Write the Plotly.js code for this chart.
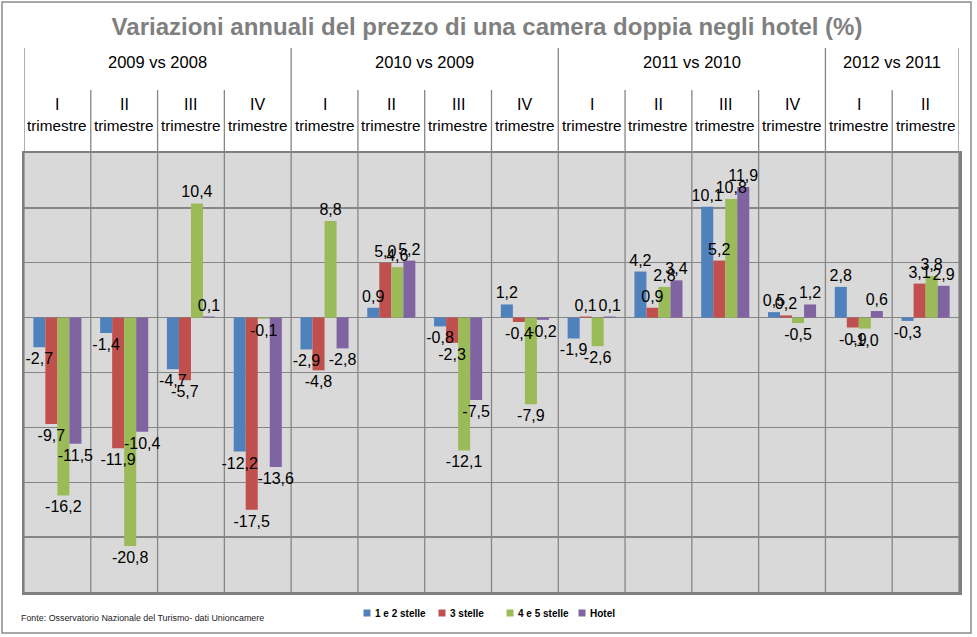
<!DOCTYPE html>
<html>
<head>
<meta charset="utf-8">
<script src="https://cdn.plot.ly/plotly-3.0.1.min.js"></script>
<style>
html,body{margin:0;padding:0;background:#fff;}
#chart{width:977px;height:637px;}
</style>
</head>
<body>
<div id="chart"></div>
<script>
// ---- Data ----
const quarters = ['I','II','III','IV','I','II','III','IV','I','II','III','IV','I','II'];
const quarterWord = 'trimestre';
const periods = ['2009 vs 2008','2010 vs 2009','2011 vs 2010','2012 vs 2011'];
const periodSpans = [4,4,4,2];
const seriesNames = ['1 e 2 stelle','3 stelle','4 e 5 stelle','Hotel'];
const stelle12 = [-2.7,-1.4,-4.7,-12.2,-2.9,0.9,-0.8,1.2,-1.9,4.2,10.1,0.5,2.8,-0.3];
const stelle3  = [-9.7,-11.9,-5.7,-17.5,-4.8,5.0,-2.3,-0.4,0.1,0.9,5.2,0.2,-0.9,3.1];
const stelle45 = [-16.2,-20.8,10.4,-0.1,8.8,4.6,-12.1,-7.9,-2.6,2.8,10.8,-0.5,-1.0,3.8];
const hotel    = [-11.5,-10.4,0.1,-13.6,-2.8,5.2,-7.5,-0.2,0.1,3.4,11.9,1.2,0.6,2.9];
const colors = ['#4F81BD','#C0504D','#9BBB59','#8064A2'];
const titleText = 'Variazioni annuali del prezzo di una camera doppia negli hotel (%)';
const sourceText = 'Fonte: Osservatorio Nazionale del Turismo- dati Unioncamere';

const FONT = '"Liberation Sans Narrow", "Arial Narrow", "Liberation Sans", Arial, sans-serif';
const GRID = '#868686';

const xs = quarters.map((q,i)=>i);
const fmt = v => v.toFixed(1).replace('.', ',');

const allSeries = [stelle12, stelle3, stelle45, hotel];
// coloured bars
const barTraces = allSeries.map((vals, k) => ({
  type: 'bar',
  name: seriesNames[k],
  x: xs,
  y: vals,
  offsetgroup: 'g' + k,
  marker: {color: colors[k], line: {width: 0}},
  showlegend: false,
  hoverinfo: 'skip'
}));
// transparent twins carrying the value labels, drawn on top of all bars
const labelTraces = allSeries.map((vals, k) => ({
  type: 'bar',
  name: seriesNames[k] + ' (etichette)',
  x: xs,
  y: vals,
  offsetgroup: 'g' + k,
  marker: {color: 'rgba(0,0,0,0)', line: {width: 0}},
  text: vals.map(fmt),
  textposition: 'outside',
  textangle: 0,
  constraintext: 'none',
  cliponaxis: false,
  textfont: {family: FONT, size: 16, color: '#000'},
  showlegend: false,
  hoverinfo: 'skip'
}));

// pixel geometry helpers (plot area 24..959 x 153..592)
const plotL = 24, plotR = 959, plotTop = 153, plotBot = 592;
const py = y => (plotBot - y) / (plotBot - plotTop);
const px = x => (x - plotL) / (plotR - plotL);

const shapes = [];
const annotations = [];

// vertical dividers inside the plot
for (let i = 0; i <= quarters.length; i++) {
  shapes.push({type:'line', xref:'x', yref:'y', x0:i-0.5, x1:i-0.5, y0:-25, y1:15,
    line:{color:GRID, width:1.3}, layer:'below'});
}
// header lines: quarter separators and period separators
let start = 0;
const bounds = [0];
periodSpans.forEach(s => { start += s; bounds.push(start); });
for (let i = 0; i <= quarters.length; i++) {
  const isPeriod = bounds.includes(i);
  shapes.push({type:'line', xref:'x', yref:'paper', x0:i-0.5, x1:i-0.5,
    y0:1, y1: isPeriod ? py(48) : py(90), line:{color:GRID, width:1.3}});
}
// outer border
shapes.push({type:'rect', xref:'paper', yref:'paper',
  x0:px(2), x1:px(971), y0:py(633), y1:py(2),
  line:{color:'#8a8a8a', width:1.5}, fillcolor:'rgba(0,0,0,0)'});

// period labels
periods.forEach((p, k) => {
  const c = (bounds[k] + bounds[k+1] - 1) / 2;
  annotations.push({xref:'x', yref:'paper', x:c, y:py(62), text:p, showarrow:false,
    xanchor:'center', yanchor:'middle', font:{family:FONT, size:16.5, color:'#000'}});
});
// quarter labels
quarters.forEach((q, i) => {
  annotations.push({xref:'x', yref:'paper', x:i, y:py(104), text:q, showarrow:false,
    xanchor:'center', yanchor:'middle', font:{family:FONT, size:16, color:'#000'}});
  annotations.push({xref:'x', yref:'paper', x:i, y:py(125), text:quarterWord, showarrow:false,
    xanchor:'center', yanchor:'middle', font:{family:FONT, size:15.3, color:'#000'}});
});
// source
annotations.push({xref:'paper', yref:'paper', x:px(19), y:py(618), text:sourceText,
  showarrow:false, xanchor:'left', yanchor:'middle', font:{family:FONT, size:8.9, color:'#222'}});

// legend (compact, Excel-like)
const legendMarkX = [367, 442, 510, 582];
seriesNames.forEach((n, k) => {
  shapes.push({type:'rect', xref:'paper', yref:'paper',
    x0:px(legendMarkX[k]-3.5), x1:px(legendMarkX[k]+3.5), y0:py(616.5), y1:py(609.5),
    fillcolor:colors[k], line:{width:0}});
  annotations.push({xref:'paper', yref:'paper', x:px(legendMarkX[k]+6), y:py(613), text:n,
    showarrow:false, xanchor:'left', yanchor:'middle',
    font:{family:FONT, size:10, color:'#000', weight:'bold'}});
});

const layout = {
  width: 977, height: 637,
  margin: {l:plotL, r:977-plotR, t:plotTop, b:637-plotBot, pad:0},
  paper_bgcolor: '#ffffff',
  plot_bgcolor: '#D9D9D9',
  title: {text: titleText, x: 487/977, xanchor:'center', y: 1 - 27/637, yanchor:'middle',
    font: {family: FONT, size: 24, color: '#7F7F7F', weight: 'bold'}},
  barmode: 'group',
  bargap: 0.28,
  bargroupgap: 0,
  showlegend: false,
  xaxis: {range:[-0.5, quarters.length-0.5], showgrid:false, zeroline:false,
    showticklabels:false, ticks:'', showline:true, mirror:true, linecolor:'#808080', linewidth:2.5,
    fixedrange:true},
  yaxis: {range:[-25, 15], dtick:5, tick0:0, showgrid:true, gridcolor:GRID, gridwidth:1.3,
    zeroline:true, zerolinecolor:GRID, zerolinewidth:1.3, showticklabels:false, ticks:'',
    showline:true, mirror:true, linecolor:'#808080', linewidth:2.5, fixedrange:true},
  shapes: shapes,
  annotations: annotations,
  hovermode: false
};

Plotly.newPlot('chart', barTraces.concat(labelTraces), layout, {displayModeBar:false, staticPlot:true});
</script>
</body>
</html>
